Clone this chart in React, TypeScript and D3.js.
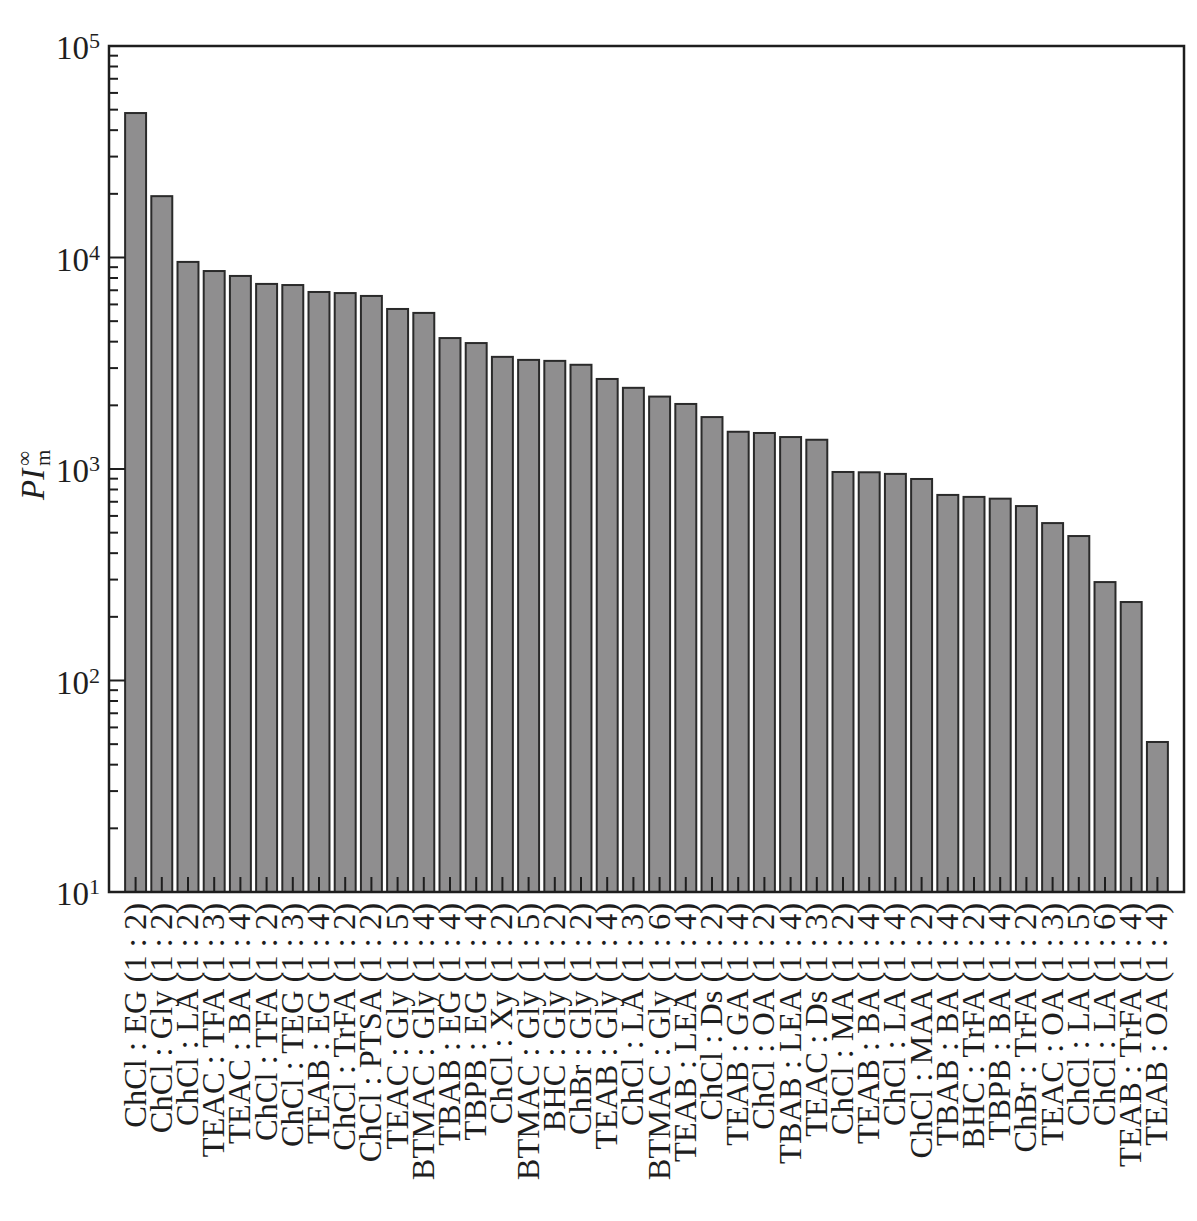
import React, { useEffect, useRef } from 'react';
import * as d3 from 'd3';

const categories: string[] = [
  'ChCl : EG (1 : 2)',
  'ChCl : Gly (1 : 2)',
  'ChCl : LA (1 : 2)',
  'TEAC : TFA (1 : 3)',
  'TEAC : BA (1 : 4)',
  'ChCl : TFA (1 : 2)',
  'ChCl : TEG (1 : 3)',
  'TEAB : EG (1 : 4)',
  'ChCl : TrFA (1 : 2)',
  'ChCl : PTSA (1 : 2)',
  'TEAC : Gly (1 : 5)',
  'BTMAC : Gly (1 : 4)',
  'TBAB : EG (1 : 4)',
  'TBPB : EG (1 : 4)',
  'ChCl : Xy (1 : 2)',
  'BTMAC : Gly (1 : 5)',
  'BHC : Gly (1 : 2)',
  'ChBr : Gly (1 : 2)',
  'TEAB : Gly (1 : 4)',
  'ChCl : LA (1 : 3)',
  'BTMAC : Gly (1 : 6)',
  'TEAB : LEA (1 : 4)',
  'ChCl : Ds (1 : 2)',
  'TEAB : GA (1 : 4)',
  'ChCl : OA (1 : 2)',
  'TBAB : LEA (1 : 4)',
  'TEAC : Ds (1 : 3)',
  'ChCl : MA (1 : 2)',
  'TEAB : BA (1 : 4)',
  'ChCl : LA (1 : 4)',
  'ChCl : MAA (1 : 2)',
  'TBAB : BA (1 : 4)',
  'BHC : TrFA (1 : 2)',
  'TBPB : BA (1 : 4)',
  'ChBr : TrFA (1 : 2)',
  'TEAC : OA (1 : 3)',
  'ChCl : LA (1 : 5)',
  'ChCl : LA (1 : 6)',
  'TEAB : TrFA (1 : 4)',
  'TEAB : OA (1 : 4)',
];

const values: number[] = [
  48200, 19500, 9530, 8630, 8180, 7500, 7410, 6870, 6790, 6580,
  5710, 5470, 4160, 3940, 3390, 3280, 3245, 3110, 2665, 2420,
  2200, 2030, 1760, 1500, 1480, 1416, 1375, 968, 965, 948,
  897, 754, 738, 724, 668, 555, 482, 292, 235, 51.2,
];

const yTickExponents: number[] = [1, 2, 3, 4, 5];
const minorMultipliers: number[] = [2, 3, 4, 5, 6, 7, 8, 9];

const W = 1197;
const H = 1221;
const X0 = 109;
const X1 = 1184;
const Y0 = 46;
const Y1 = 892;
const INK = '#1e1e1e';
const FONT = '"Liberation Serif", "Times New Roman", serif';

export default function App() {
  const ref = useRef<SVGSVGElement>(null);

  useEffect(() => {
    const svg = d3.select(ref.current);
    svg.selectAll('*').remove();

    const idx = categories.map((_, i) => String(i));
    const x = d3.scaleBand<string>().domain(idx).range([X0, X1]).paddingInner(0.2).paddingOuter(0.615);
    const y = d3.scaleLog().domain([10, 1e5]).range([Y1, Y0]);

    // bars
    svg.append('g')
      .selectAll('rect')
      .data(values)
      .join('rect')
      .attr('x', (_, i) => x(String(i)) as number)
      .attr('width', x.bandwidth())
      .attr('y', (d) => y(d))
      .attr('height', (d) => Y1 - y(d))
      .attr('fill', '#8f8e8f')
      .attr('stroke', '#2a2a2a')
      .attr('stroke-width', 2);

    // frame
    svg.append('rect')
      .attr('x', X0).attr('y', Y0)
      .attr('width', X1 - X0).attr('height', Y1 - Y0)
      .attr('fill', 'none').attr('stroke', INK).attr('stroke-width', 2.5);

    // y ticks
    const gy = svg.append('g');
    yTickExponents.forEach((e) => {
      const v = Math.pow(10, e);
      gy.append('line')
        .attr('x1', X0).attr('x2', X0 + 16)
        .attr('y1', y(v)).attr('y2', y(v))
        .attr('stroke', INK).attr('stroke-width', 2);
      const t = gy.append('text')
        .attr('x', 100).attr('y', y(v) + 13)
        .attr('text-anchor', 'end')
        .attr('font-family', FONT)
        .attr('fill', INK);
      t.append('tspan').attr('font-size', 33).text('10');
      t.append('tspan').attr('font-size', 22).attr('dy', -11).text(String(e));
      if (e < 5) {
        minorMultipliers.forEach((m) => {
          const mv = m * v;
          gy.append('line')
            .attr('x1', X0).attr('x2', X0 + 9)
            .attr('y1', y(mv)).attr('y2', y(mv))
            .attr('stroke', INK).attr('stroke-width', 2);
        });
      }
    });

    // x ticks and labels
    const gx = svg.append('g');
    idx.forEach((k, i) => {
      const cx = (x(k) as number) + x.bandwidth() / 2;
      gx.append('line')
        .attr('x1', cx).attr('x2', cx)
        .attr('y1', Y1).attr('y2', Y1 - 15)
        .attr('stroke', INK).attr('stroke-width', 2);
      gx.append('text')
        .attr('transform', `translate(${cx + 10},903) rotate(-90)`)
        .attr('text-anchor', 'end')
        .attr('font-family', FONT)
        .attr('font-size', 32.5)
        .attr('fill', INK)
        .text(categories[i]);
    });

    // y title
    const gt = svg.append('g').attr('transform', 'translate(44,500) rotate(-90)');
    gt.append('text').attr('x', 0).attr('y', 0)
      .attr('font-family', FONT).attr('font-style', 'italic').attr('font-size', 33)
      .attr('fill', INK).text('PI');
    gt.append('text').attr('x', 34).attr('y', 6)
      .attr('font-family', FONT).attr('font-size', 21)
      .attr('fill', INK).text('m');
    gt.append('text').attr('x', 34).attr('y', -13)
      .attr('font-family', FONT).attr('font-size', 21)
      .attr('fill', INK).text('∞');
  }, []);

  return (
    <svg
      ref={ref}
      width={W}
      height={H}
      style={{ position: 'absolute', left: 0, top: 0, background: '#fff' }}
    />
  );
}
